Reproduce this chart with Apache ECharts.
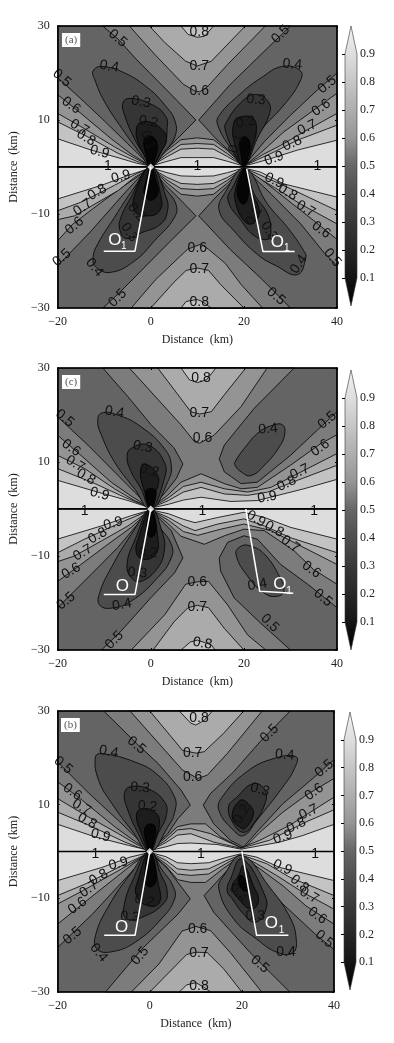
<!DOCTYPE html>
<html><head><meta charset="utf-8">
<script src="https://cdn.jsdelivr.net/npm/echarts@6/dist/echarts.min.js"></script>
<style>html,body{margin:0;padding:0;background:#fff}#c{width:394px;height:1043px}</style></head>
<body><div id="c"></div>
<script>
// Axis ticks and colour-bar scale
const xRange = [-20, 40];
const yRange = [-30, 30];
const colorbarTicks = [0.1, 0.2, 0.3, 0.4, 0.5, 0.6, 0.7, 0.8, 0.9];
const colorbarOutline = [[0.5,1],[1,0.9],[1,0.1],[0.5,0],[0,0.1],[0,0.9]];
const zeroLine = [[-20,0],[40,0]];
const frameRect = [-20,30, 40,30, 40,-30, -20,-30];

// Contour regions, km coordinates: [band value, x,y, x,y, ...]. Painted in order.
const aUpper = [
 [0.55,[-20,0,-20,19,-15,14.5,-10.6,10.4,-5,5,0,.2,2.9,3.2,5.8,6.1,9.7,10,4,15.8,-3,22.8,-7,27.2,-10.3,30,30,30,25.8,26,17,17.5,10.3,10,14,6,17,3.3,20,.2,24.4,5.4,30,11,35.8,16.4,40,20,40,0]],
 [0.65,[-20,0,-20,15.4,-15,11.4,-8.5,6,-4,2.6,0,.2,3.5,3.5,6.5,5.8,10,6.2,13.5,5.8,16.5,3.5,20,.2,23.5,2.9,28.6,7.5,35,12.1,40,15.7,40,0]],
 [0.75,[-20,0,-20,11.4,-15,8.6,-7.8,4.3,-3.5,1.9,0,.2,3.5,2.8,6.5,4.8,10,5,13.5,4.8,16.5,2.8,20,.2,24,2.6,27.9,4.6,33.6,7.9,40,11.4,40,0]],
 [0.85,[-20,0,-20,9.6,-13.5,6.4,-7,2.9,-3,1.2,0,.2,3.5,2.2,6.5,3.8,10,4,13.5,3.8,16.5,2.2,20,.2,23,1.6,26.5,3.2,31.5,5.7,40,8.9,40,0]],
 [0.95,[-20,0,-20,6,-12.8,3.6,-6.4,1.8,-3,.8,0,.2,3.5,1.2,6.5,2,10,2,13.5,2,16.5,1.2,20,.2,23,1,25.8,1.8,31.5,3.6,40,5.7,40,0]],
 [0.65,[-4.6,30,1,23.8,7,17.6,9.4,16.2,10.5,16,12.2,17.1,16.5,21.8,24.6,30]],
 [0.75,[-.3,30,3,26.5,7.5,22.5,10,21.5,13,22.5,20.3,30]],
 [0.85,[6.5,30,8,28.2,10,27.6,11.5,27.8,13.5,30]],
 [0.35,[-12.4,20.4,-10.6,21.4,-5.6,20,-.6,16.8,3,13.2,5.2,9.8,5.2,6.5,3,3.3,0,0,-2,2.5,-6.2,8.2,-10,14,-12,18.5]],
 [0.25,[-6,13.6,-4.6,14.6,0,13.4,3.2,10.8,3.5,8,3,5,0,0,-1.4,2.5,-3.5,6,-5.6,11]],
 [0.15,[-3.1,7.9,-2.4,9.3,-.3,9.6,2.2,8.2,3.4,6,2.2,3.2,0,0,-1.4,2.5,-2.8,5.4]],
 [0.05,[-1.4,6,0,6.6,1.4,5,1.1,2.5,0,0,-1,2.5]],
 [0.35,[28.3,21.4,32.2,20.4,31.9,17.9,28.6,13.2,22.9,6.8,20,.4,17.2,3.9,14.4,8.9,14.7,11,19.4,15.7,23.6,18.9]],
 [0.25,[16.1,9.3,20,14.3,22.9,15.4,25.4,13.6,25.4,11,22.9,6.1,20,.4,17.6,3.9,16.1,7.5]],
 [0.15,[17.9,9.6,19.4,10.7,21.9,10.4,22.7,8.2,21.9,4.6,20,.4,17.9,5.4]],
 [0.05,[19.2,5.7,20.4,6.4,21.3,5,20.8,1.8,20,.4,19.4,2.5]]
];
const aLower = [
 [0.55,[-20,0,-20,-21,-12.8,-13.6,-6.4,-6.4,-2.8,-2.5,0,-.2,2.9,-3.6,5.8,-6.4,9.7,-10.4,4,-16,-2,-22,-7,-27,-10.3,-30,30,-30,24,-24,17,-17.5,10.3,-10.4,14,-6.4,17,-3.5,20,-.2,25.8,-5.7,32.2,-12.1,37.2,-18.2,40,-21,40,0]],
 [0.65,[-20,0,-20,-15.7,-16.7,-12.1,-10.6,-7.5,-5.6,-3.9,0,-.2,3.5,-3.4,6.5,-5.8,10,-6.2,13.5,-5.8,16.5,-3.4,20,-.2,22.2,-1.4,28.6,-6.4,35,-11.4,40,-15.4,40,0]],
 [0.75,[-20,0,-20,-11.2,-16.4,-10.4,-7,-5,-3.5,-2.2,0,-.2,3.5,-2.8,6.5,-4.6,10,-4.8,13.5,-4.6,16.5,-2.8,20,-.2,24,-2.8,26.5,-4.3,32.2,-7.9,40,-12.1,40,0]],
 [0.85,[-20,0,-20,-9.3,-15,-7.5,-7.8,-3.9,-3,-1.4,0,-.2,3.5,-2.2,6.5,-3.5,10,-3.7,13.5,-3.5,16.5,-2.2,20,-.2,24.4,-2.1,30,-4.6,40,-9.3,40,0]],
 [0.95,[-20,0,-20,-6.8,-10.6,-3.9,-4.9,-1.8,0,-.2,3.5,-1.2,6.5,-1.9,10,-2,13.5,-1.9,16.5,-1.2,20,-.2,23.6,-1.1,28.6,-3.6,40,-6.4,40,0]],
 [0.65,[-4.2,-30,1,-24,7.9,-17.5,10.8,-16.4,12.4,-17.5,16,-20.5,19.4,-25,24,-30]],
 [0.75,[0,-30,5,-24.5,7.6,-22,10,-21.5,12.4,-22,15,-25,20,-30]],
 [0.85,[6.5,-30,7.6,-28.6,10,-28.2,11,-28.6,13,-30]],
 [0.35,[-12.4,-19.3,-11.7,-21.4,-8.5,-22.4,-3.5,-20,.8,-15.7,5.1,-10.7,5.4,-7.9,2.9,-4.3,0,0,-3.5,-4.3,-7.8,-10.7,-11.4,-16.4]],
 [0.25,[-6.7,-13.2,-5.3,-15.2,-2,-14,2.2,-12.1,3.6,-9.3,3.3,-6.4,0,0,-4.6,-7.1,-6.4,-10.7]],
 [0.15,[-3.5,-9.3,-.6,-10.4,1.9,-9.3,2.2,-6.4,0,0,-3.1,-5]],
 [0.05,[-1.4,-5.7,0,-7.1,1.5,-5.7,1.1,-2.9,0,0,-1,-2.9]],
 [0.35,[15.8,-5.7,14.7,-9.3,17.9,-13.6,22.9,-18.6,26.9,-21,31.5,-22.9,33.3,-19.3,32.9,-17.9,29.4,-12.9,25.1,-7.9,20.2,-.4]],
 [0.25,[16.6,-7.1,19.4,-11.4,22.2,-14.6,25.1,-15.4,25.8,-13.9,25.1,-10,22.2,-5.7,20.2,-.4,17.6,-4.3]],
 [0.15,[18.3,-7.9,20.4,-11.8,22.2,-11.8,23.3,-9.3,21.5,-5,20.2,-.4,18.3,-4.3]],
 [0.05,[18.6,-5.7,19.7,-7.9,20.8,-6.8,20.8,-2.9,20.2,-.4,19,-2.9]]
];
const cUpper = [
 [0.55,[-20,0,-20,19.6,-13.5,13.6,-7,7.1,-3.5,3.6,0,.2,3,3.4,5.5,6.5,6.9,9.6,5,13,0,18,-5,24,-10.3,30,30.8,30,22.2,21.4,15.8,13.6,14.7,10.7,15.8,7.9,19.4,5.4,22.9,5.7,30,11.4,35.8,16.8,40,20.7,40,0]],
 [0.65,[-20,0,-20,15.7,-15,11.4,-8.5,5.7,-4,2.6,0,.2,3.6,2.9,6.5,5.7,10.8,7.5,15.8,5.4,19.4,4.3,22.9,4.6,30,9.3,36.5,13.9,40,15.8,40,0]],
 [0.75,[-20,0,-20,11.4,-14.2,8.6,-7.8,4.3,-3.5,1.8,0,.2,3.8,2.4,7,4.8,10.8,5.7,15.8,4.3,20.8,3.6,25.8,4.6,32.9,8.2,40,11.8,40,0]],
 [0.85,[-20,0,-20,8.6,-12,5.4,-5.6,2.5,0,.2,3.8,1.8,7,3.6,10.8,4.6,15.8,3.2,20.8,2.9,25.1,3.6,31.5,6.1,40,9.3,40,0]],
 [0.95,[-20,0,-20,6.1,-11.4,3.6,-4.9,1.8,0,.2,3.8,1,7,1.9,10.8,2.5,17.2,1.6,22.9,1.8,32.9,4.3,40,6.3,40,0]],
 [0.65,[-4.6,30,6.5,17.9,9.4,14.3,10.5,14,13.6,15.7,19.4,21.8,25,30]],
 [0.75,[1.5,30,8.6,20.7,10.5,20.2,13,20.7,15.8,24.3,20.4,30]],
 [0.85,[6.5,30,8.3,27.5,10,26.9,12,27.5,14,30]],
 [0.35,[-11.4,18.6,-10.6,20.4,-7.1,20,-2.1,17.5,2.9,12.9,4.4,9.3,3.6,5.7,0,0,-3.5,4.3,-7.8,10,-10.6,15.7]],
 [0.25,[-5.1,11.1,-4.2,12.9,-.6,13.6,2.9,10,2.9,6.4,0,0,-2.1,4.3,-4.2,7.9]],
 [0.15,[-2.2,8.2,-1,9.5,1.5,7.1,1.5,4.6,1.1,3.9,0,0,-1.4,3.9]],
 [0.05,[-1,3.9,1.1,3.9,0,0]],
 [0.35,[18.1,10,20.1,12.9,23.3,16.4,26.5,17.9,28.3,17.9,28.8,16.1,27.6,13.2,24.4,9.3,21.5,7.1,19.4,7.9,18.1,9.3]]
];
const cLower = [
 [0.55,[-20,0,-20,-21,-12.8,-13.9,-7.1,-8.2,-2.8,-3.2,0,-.2,4.4,-4.6,6.9,-10.4,5.1,-13.6,0,-18.9,-6.4,-26,-10.6,-30,30,-30,23.6,-24.3,17.9,-18.9,15,-13.2,14.7,-10.4,16.5,-7.1,20,-5.7,22.9,-6.4,27.9,-11.8,33.7,-16,40,-21,40,0]],
 [0.65,[-20,0,-20,-15.4,-15,-11.8,-9.2,-7.5,-4.2,-3.9,0,-.2,3.6,-3,6.5,-5.8,11.5,-7.5,15.8,-5.7,20,-4.3,24.4,-4.6,30.8,-8.9,35,-12.9,40,-16,40,0]],
 [0.75,[-20,0,-20,-11.2,-16.4,-10,-10.6,-6.8,-4.9,-3.6,0,-.2,3.8,-2.4,7,-4.8,10.1,-5.6,15,-4.3,20,-3.2,25.8,-4.6,31.5,-7.5,40,-11.8,40,0]],
 [0.85,[-20,0,-20,-9.3,-14.2,-6.4,-5.6,-2.5,0,-.2,3.8,-1.8,7,-3.6,9.5,-4.6,14.4,-3.2,20,-2.1,24.4,-3.6,30,-6.1,40,-9.3,40,0]],
 [0.95,[-20,0,-20,-6.4,-10.6,-3.6,-4.2,-1.4,0,-.2,3.8,-1,7,-2.2,9.5,-2.9,14.4,-1.8,20,-.7,24.4,-1.8,30,-3.9,40,-6.4,40,0]],
 [0.65,[-4.2,-30,3,-22.5,7.5,-16,10,-15.5,12.4,-15.4,16.5,-20.4,20.8,-26.8,24.7,-30]],
 [0.75,[.5,-30,5,-24,8,-21,10,-20.5,12.4,-21,15.8,-25.4,20,-30]],
 [0.85,[6.5,-30,8.5,-28.3,10,-27.9,13,-28.9,13.8,-30]],
 [0.35,[-11,-17.9,-11,-20.4,-8.5,-21.1,-4.2,-19.6,1.5,-14.6,4.4,-10.4,4.4,-7.5,1.5,-3.2,0,0,-4.2,-5.4,-8.5,-12.5]],
 [0.25,[-5.1,-11.8,-4.2,-14.6,-2.1,-15.4,1.5,-12.5,2.9,-8.9,2.6,-5.4,0,0,-3.5,-6.8]],
 [0.15,[-3.1,-9.3,-1.4,-10.7,1.1,-9.6,1.5,-6,0,0,-2.4,-5.4]],
 [0.05,[-1,-4.6,0,-6,1.1,-4.6,0,0]],
 [0.35,[18.3,-9.6,19.4,-7.9,21.5,-7.9,24.4,-9.6,27.6,-14.3,28.6,-17.5,26.9,-18.6,24.4,-17.9,20.8,-14.3]]
];
const bUpper = [
 [0.55,[-20,0,-20,19.1,-13.2,12.4,-6.8,6.6,0,.2,3.9,3.8,6.1,7,8.8,9.9,6.8,13.1,1.8,18.8,-2.9,23.1,-10,30,30.5,30,23.9,23.4,18.2,17,13.2,12.4,11.6,9.9,13.9,5.9,17.5,2.4,20.3,.9,23.2,4.1,28.9,10.2,35.4,15.6,40,19.6,40,0]],
 [0.65,[-20,0,-20,14.9,-14.6,10.9,-7.5,5.2,-3,2,0,.2,3.5,3,6,5.3,8.9,5.9,12.1,5.9,15.4,3.1,19.6,.9,20.7,.9,23.9,4.1,28.9,8.4,33.9,12,40,15.6,40,0]],
 [0.75,[-20,0,-20,11.3,-14.6,8.1,-6.8,3.8,-3,1.6,0,.2,3.5,2.4,6,4.6,8.9,4.9,13.2,3.8,19.8,.8,23.9,2.4,30.4,5.6,40,11.6,40,0]],
 [0.85,[-20,0,-20,8.4,-13.2,5.6,-5.4,2,-2.5,.9,0,.2,3.5,1.9,6,3.5,8.9,3.8,13.9,2,19.8,.7,26,2.4,33.9,6.3,40,8.9,40,0]],
 [0.95,[-20,0,-20,5.8,-11.8,3.1,-4.6,1.3,0,.2,3.5,1,6,1.7,8.9,1.8,14.6,1.5,19.8,.5,28.2,2,33.2,3.4,40,5.8,40,0]],
 [0.65,[-4.3,30,7.1,17.4,10.4,15.6,12.5,16.3,16.8,20.9,24.4,30]],
 [0.75,[0,30,7.1,21.6,10,21,11.8,21.3,16,25.2,20.4,30]],
 [0.85,[6.4,30,8.9,27.4,10,27,11.8,28,13.6,30]],
 [0.35,[-11.8,20.2,-10.4,20.9,-3.2,19.1,1.8,16.3,5.4,11.6,5.4,8.4,3.9,5.2,0,0,-3.9,4.5,-8.2,10.2,-11.1,15.2]],
 [0.25,[-5.5,12.4,-4.3,13.8,-.4,13.4,3.2,10.6,3.6,7.7,1.8,3.8,0,0,-2.5,3.8,-5,9.5]],
 [0.15,[-2.9,7.7,-1.8,9.1,1.1,8.4,2.1,6.3,1.1,2.4,0,0,-1.8,3.8]],
 [0.05,[-1.1,4.9,0,5.9,1.2,5.2,.7,1.6,0,0,-.9,2.4]],
 [0.35,[27.1,19.9,31.8,20.2,31.4,17.7,28.9,13.8,23.2,6.6,20.4,3.4,18.2,4.5,15,8.8,15.7,11.6,21,17]],
 [0.25,[17.1,9.5,18.9,11.6,22.5,14.5,25,13.1,25,10.2,22.5,5.9,20.4,4.1,18.2,5.9]],
 [0.15,[17.9,7.4,19.6,10.9,21.4,10.2,22.5,8.1,21,5.2,20,4.9]]
];
const bLower = [
 [0.55,[-20,0,-20,-20.5,-12.5,-13.4,-6.1,-6.6,0,-.2,3.9,-3.7,8.8,-10.1,6.1,-13.4,-1.8,-20.9,-9.6,-30,30.4,-30,21.8,-21.6,13.9,-13,11.8,-9.4,16.1,-4.8,19.8,-.9,20.7,-1.2,24.6,-6.6,28.9,-11.2,36,-17.7,40,-20.9,40,0]],
 [0.65,[-20,0,-20,-15.5,-14.6,-11.2,-8.2,-6.2,-3.6,-2.6,0,-.2,3.5,-3.1,6,-6,8.9,-6.6,12.1,-6.6,16,-3.6,19.8,-.9,23.9,-3.7,28.9,-7.3,33.9,-11.6,40,-15.5,40,0]],
 [0.75,[-20,0,-20,-11.2,-14.6,-8.4,-6.1,-3.7,0,-.2,3.5,-2.6,6,-4.8,8.9,-5.1,12.8,-4.8,16.5,-2.6,19.8,-.8,23.2,-2.6,27.5,-5.1,33.2,-8.7,40,-12.3,40,0]],
 [0.85,[-20,0,-20,-9.4,-13.9,-6.9,-6.8,-3.4,0,-.2,3.5,-1.9,6,-3.7,8.9,-4,12.8,-3.7,16.5,-2,19.8,-.7,25.4,-2.6,30.4,-5.5,40,-9.4,40,0]],
 [0.95,[-20,0,-20,-6.2,-10.4,-3.4,-4.3,-1.2,0,-.2,3.5,-1.1,6,-2.4,8.9,-2.6,12.8,-2.4,16.5,-1.3,19.8,-.5,23.2,-1.2,28.2,-3.4,40,-6.2,40,0]],
 [0.65,[-4,-30,2,-24,7,-17,10,-16,13.2,-16.9,17.5,-21.6,24.3,-30]],
 [0.75,[0,-30,4,-26,8,-22,10,-21.5,12.5,-21.6,16,-25,20,-30]],
 [0.85,[6.4,-30,8,-28.5,10,-28,11.8,-29,13.2,-30]],
 [0.35,[-11.8,-18,-11.4,-20.9,-8.2,-21.4,-3.2,-19.4,2.5,-14.4,5.4,-10.1,5,-7.3,2.5,-3.7,0,0,-3.9,-4.4,-8.9,-11.6]],
 [0.25,[-5.7,-12.3,-5,-14.4,-1.8,-14.1,3.2,-10.9,3.7,-8,2.5,-5.1,0,0,-3.6,-5.9]],
 [0.15,[-2.9,-9.4,-.4,-11.6,2.1,-10.9,1.8,-6.6,0,0,-2.5,-5.9]],
 [0.05,[-1.1,-5.9,0,-7.6,1.4,-5.9,0,0]],
 [0.35,[15,-8,16.1,-5.1,20,-.9,26,-7.6,30.4,-14,31.8,-18.7,31.1,-21.6,27.8,-21.6,23.2,-18.7,18.2,-14.4]],
 [0.25,[16.8,-8.4,17.5,-5.9,20,-1.6,25,-9.4,25,-13,22.8,-15.1,20.4,-13.4,17.9,-10.1]],
 [0.15,[17.9,-7.6,19.3,-5.1,20.4,-3,22.5,-7.3,23.6,-10.5,22.1,-12.3,19.6,-10.5]],
 [0.05,[19.3,-6.6,19.6,-5.1,20.7,-5.9,21.4,-8,20.4,-8.4]]
];

// Contour labels: [x, y, text, clockwise degrees]
const aLabels = [
 [-7.1,27.4,'0.5',40],[-8.9,21.4,'0.4',10],[-19.1,18.9,'0.5',40],[-17.1,13.1,'0.6',35],[-15.3,8.4,'0.7',30],[-13.9,6.2,'0.8',30],[-11,3.2,'0.9',15],[-2.1,13.8,'0.3',10],[-.5,9.6,'0.2',10],[-.6,5.7,'0.1',70],
 [10.4,28.6,'0.8',0],[10.4,21.4,'0.7',0],[10.4,16.2,'0.6',0],[-9.2,.2,'1',0],[10,.2,'1',0],[35.8,.2,'1',0],
 [27.9,28.2,'0.5',-45],[30.4,21.8,'0.4',5],[22.6,14.3,'0.3',5],[20.4,9.5,'0.2',-10],[37.9,17.5,'0.5',-40],[36.6,12.6,'0.6',-35],[33.6,8.4,'0.7',-25],[30.4,5,'0.8',-25],[26.5,1.8,'0.9',-20],[18.3,5,'0.1',-70],
 [-6.4,-2.1,'0.9',-15],[-11.5,-5.4,'0.8',-30],[-14.6,-8.6,'0.7',-35],[-16.4,-12.5,'0.6',-40],[-19.1,-19.3,'0.5',-40],[-12.1,-21.4,'0.4',50],[-4.6,-13.9,'0.3',55],[-3.1,-9.6,'0.2',50],[-7.1,-27.9,'0.5',-45],
 [10,-17.3,'0.6',0],[10.4,-21.7,'0.7',0],[10.4,-28.7,'0.8',0],
 [26.5,-2.9,'0.9',25],[29.4,-5.4,'0.8',30],[33.3,-8.9,'0.7',30],[36.6,-13.4,'0.6',35],[39,-19.3,'0.5',50],[31.8,-20.7,'0.4',-55],[26.9,-27.5,'0.5',40],[25.4,-13.6,'0.3',60],[22.2,-10.4,'0.2',-60]
];
const cLabels = [
 [-18.5,19.3,'0.5',40],[-7.8,20.6,'0.4',10],[-17.1,13,'0.6',35],[-16.2,9.6,'0.7',30],[-13.9,6.8,'0.8',30],[-11,3.2,'0.9',15],[-1.7,13.2,'0.3',10],[-.3,8.2,'0.2',15],[-14.2,-.4,'1',0],
 [10.8,27.9,'0.8',0],[10.4,20.4,'0.7',0],[11.1,15,'0.6',0],[25.2,17,'0.4',-5],[37.9,18.9,'0.5',-40],[36.4,13,'0.6',-35],[32,7.9,'0.7',-25],[29.2,5.4,'0.8',-25],[25,2.5,'0.9',-10],[11.1,-.4,'1',0],[35.1,-.4,'1',0],
 [-8.1,-3.1,'0.9',-15],[-11.4,-5.7,'0.8',-30],[-14.6,-9.3,'0.7',-30],[-17.1,-13.2,'0.6',-30],[-18.2,-19.6,'0.5',-40],[-6.2,-20.4,'0.4',-10],[-2.9,-13.6,'0.3',5],[-.6,-9.3,'0.2',5],[-7.8,-27.9,'0.5',-45],
 [10,-15.5,'0.6',0],[10,-20.9,'0.7',0],[11.1,-28.6,'0.8',10],[22.6,-2.1,'0.9',30],[26.5,-4.3,'0.8',30],[30,-7.5,'0.7',35],[34.5,-12.9,'0.6',35],[37,-18.9,'0.5',40],[22.9,-16.1,'0.4',-10],[25.6,-24.3,'0.5',45]
];
const bLabels = [
 [-2.9,22.7,'0.5',40],[-8.9,21.3,'0.4',10],[-18.8,18.4,'0.5',40],[-16.8,12.7,'0.6',35],[-14.8,9.4,'0.7',30],[-13.6,6.5,'0.8',30],[-10.7,3.4,'0.9',15],[-2.1,13.6,'0.3',5],[-.5,9.6,'0.2',5],[-11.8,-.5,'1',0],
 [10.7,28.4,'0.8',0],[9.3,21,'0.7',0],[9.3,15.8,'0.6',0],[11.1,-.5,'1',0],[35.9,-.5,'1',0],[26,25.2,'0.5',-45],[29.3,20.6,'0.4',5],[23.9,13.2,'0.3',15],[20,8,'0.2',-60],[37.9,17.7,'0.5',-40],[35.7,12.7,'0.6',-35],[34.5,8.4,'0.7',-25],[31.8,5.6,'0.8',-25],[28.9,3.1,'0.9',-20],
 [-6.8,-2.6,'0.9',-15],[-11.1,-5.5,'0.8',-30],[-13.2,-8,'0.7',-35],[-15.7,-11.6,'0.6',-35],[-16.8,-18,'0.5',-40],[-11.1,-21.6,'0.4',50],[-2.1,-22.3,'0.5',-50],[-4.3,-14,'0.3',5],[-1.2,-10.5,'0.2',15],
 [28.8,-3.4,'0.9',25],[32.5,-6.9,'0.8',40],[34.6,-9.4,'0.7',30],[36.4,-13.7,'0.6',35],[37.9,-18.7,'0.5',40],[29.6,-21.4,'0.4',0],[22.9,-13.7,'0.3',0],[19.3,-8.7,'0.2',40],[23.9,-24.1,'0.5',40],[10.4,-16.6,'0.6',0],[10.7,-21.6,'0.7',0],[10.7,-28.7,'0.8',0]
];

// White fault traces and their annotations
const aFaults = [[[0,0],[-3.4,-17.9],[-10.1,-17.9]], [[20.6,-.4],[24.1,-18],[30.9,-18]]];
const cFaults = [[[0,0],[-3.4,-18.2],[-10.1,-18.2]], [[20.4,0],[23.4,-17.5],[30.6,-17.9]]];
const bFaults = [[[0,0],[-3.2,-17.9],[-9.9,-17.9]], [[20,0],[23.2,-17.9],[30.1,-17.9]]];
const aFaultText = [[-7.7,-15.5,'O'],[-5.8,-16.8,'1'],[27.2,-16,'O'],[29.2,-17.3,'1']];
const cFaultText = [[-6.1,-16.4,'O'],[27.7,-16,'O'],[29.7,-17.4,'1']];
const bFaultText = [[-6.1,-16.2,'O'],[26.4,-15.4,'O'],[28.6,-16.9,'1']];
const originPoint = [[0,0]];

const bandGrey = {0.05:'#060606',0.15:'#1d1d1d',0.25:'#353535',0.35:'#4c4c4c',0.45:'#646464',0.55:'#7c7c7c',0.65:'#949494',0.75:'#ababab',0.85:'#c3c3c3',0.95:'#dddddd'};
const serif = '"Liberation Serif", serif';

const panels = [
 {tag:'(a)', contours:[[0.45,frameRect],...aUpper,...aLower], labels:aLabels, faults:aFaults, faultText:aFaultText,
  g:{left:57,top:26,width:280,height:282}, bar:{left:345,top:26,width:12,height:280}},
 {tag:'(c)', contours:[[0.45,frameRect],...cUpper,...cLower], labels:cLabels, faults:cFaults, faultText:cFaultText,
  g:{left:57,top:368,width:280,height:282}, bar:{left:345,top:370,width:12,height:280}},
 {tag:'(b)', contours:[[0.45,frameRect],...bUpper,...bLower], labels:bLabels, faults:bFaults, faultText:bFaultText,
  g:{left:56,top:711,width:278,height:281}, bar:{left:344,top:712,width:12,height:278}}
];

const grids=[],xAxes=[],yAxes=[],series=[],titles=[];
const axisBase = {type:'value',z:10,axisLine:{onZero:false,lineStyle:{color:'#000',width:1.6}},splitLine:{show:false},
  axisTick:{inside:true,length:2,lineStyle:{color:'#000',width:1}}};
const fmt = v => v<0 ? '\u2212'+Math.abs(v) : String(v);
const barGrad = new echarts.graphic.LinearGradient(0,0,0,1,[
 {offset:0,color:'#f2f2f2'},{offset:.1,color:'#dedede'},{offset:.2,color:'#c6c6c6'},{offset:.3,color:'#aeaeae'},{offset:.4,color:'#959595'},
 {offset:.5,color:'#666666'},{offset:.6,color:'#4e4e4e'},{offset:.7,color:'#383838'},{offset:.8,color:'#262626'},{offset:.9,color:'#141414'},{offset:1,color:'#000000'}]);

panels.forEach(p=>{
  const gi=grids.length;
  grids.push(p.g);
  const xi=xAxes.length, yi=yAxes.length;
  xAxes.push({...axisBase,gridIndex:gi,position:'bottom',min:xRange[0],max:xRange[1],interval:20,
    name:'Distance  (km)',nameLocation:'middle',nameGap:26,nameTextStyle:{fontFamily:serif,fontSize:12,color:'#222'},
    axisLabel:{fontFamily:serif,fontSize:12,color:'#222',margin:8,formatter:fmt}});
  xAxes.push({...axisBase,gridIndex:gi,position:'top',min:xRange[0],max:xRange[1],interval:20,axisLabel:{show:false}});
  yAxes.push({...axisBase,gridIndex:gi,position:'left',min:yRange[0],max:yRange[1],interval:20,
    name:'Distance  (km)',nameLocation:'middle',nameGap:31,nameTextStyle:{fontFamily:serif,fontSize:12,color:'#222'},
    axisLabel:{fontFamily:serif,fontSize:12,color:'#222',margin:8,formatter:fmt}});
  yAxes.push({...axisBase,gridIndex:gi,position:'right',min:yRange[0],max:yRange[1],interval:20,axisLabel:{show:false}});
  const ax={xAxisIndex:xi,yAxisIndex:yi,silent:true,animation:false};
  series.push({...ax,type:'custom',coordinateSystem:'cartesian2d',z:2,data:p.contours.map((c,i)=>[i]),
    renderItem:(params,api)=>{
      const c=p.contours[params.dataIndex], pts=[];
      for(let k=0;k<c[1].length;k+=2) pts.push(api.coord([c[1][k],c[1][k+1]]));
      const shape={points:pts};
      if(c[0]<0.4) shape.smooth=0.45;
      return {type:'polygon',shape,style:{fill:bandGrey[c[0]],stroke:'#000',lineWidth:.8}};
    }});
  series.push({...ax,type:'line',z:3,symbol:'none',data:zeroLine,lineStyle:{color:'#000',width:1.5}});
  series.push({...ax,type:'custom',coordinateSystem:'cartesian2d',z:4,data:p.labels.map((c,i)=>[i]),
    renderItem:(params,api)=>{
      const l=p.labels[params.dataIndex], q=api.coord([l[0],l[1]]);
      return {type:'text',x:q[0],y:q[1],rotation:-l[3]*Math.PI/180,
        style:{text:l[2],fill:'#111',font:'14px "Liberation Sans", sans-serif',align:'center',verticalAlign:'middle'}};
    }});
  p.faults.forEach(f=>series.push({...ax,type:'line',z:5,symbol:'none',data:f,lineStyle:{color:'#fff',width:1.5}}));
  series.push({...ax,type:'scatter',z:6,symbol:'diamond',symbolSize:7,data:originPoint,itemStyle:{color:'#fff'}});
  series.push({...ax,type:'custom',coordinateSystem:'cartesian2d',z:6,data:p.faultText.map((c,i)=>[i]),
    renderItem:(params,api)=>{
      const l=p.faultText[params.dataIndex], q=api.coord([l[0],l[1]]);
      return {type:'text',x:q[0],y:q[1],
        style:{text:l[2],fill:'#fff',font:(l[2]==='O'?'17':'10')+'px "Liberation Sans", sans-serif',align:'center',verticalAlign:'middle'}};
    }});
  titles.push({text:p.tag,left:p.g.left+5,top:p.g.top+7,backgroundColor:'#fff',padding:[2,3,1,3],
    textStyle:{fontFamily:serif,fontSize:11,fontWeight:'normal',color:'#555'}});

  // colour bar
  const bi=grids.length;
  grids.push(p.bar);
  const bx=xAxes.length, by=yAxes.length;
  xAxes.push({type:'value',gridIndex:bi,min:0,max:1,show:false});
  yAxes.push({type:'value',gridIndex:bi,position:'right',min:0,max:1,z:10,splitLine:{show:false},axisLine:{show:false},
    axisTick:{inside:true,length:3,customValues:colorbarTicks,lineStyle:{color:'#000',width:1}},
    axisLabel:{customValues:colorbarTicks,fontFamily:serif,fontSize:12,color:'#222',margin:3,formatter:v=>v.toFixed(1)}});
  series.push({type:'custom',coordinateSystem:'cartesian2d',xAxisIndex:bx,yAxisIndex:by,silent:true,animation:false,data:[[0]],
    renderItem:(params,api)=>({type:'polygon',shape:{points:colorbarOutline.map(c=>api.coord(c))},
      style:{fill:barGrad,stroke:'#333',lineWidth:.6}})});
});

const chart=echarts.init(document.getElementById('c'),null,{renderer:'canvas'});
chart.setOption({animation:false,backgroundColor:'#fff',title:titles,grid:grids,xAxis:xAxes,yAxis:yAxes,series});
</script></body></html>
